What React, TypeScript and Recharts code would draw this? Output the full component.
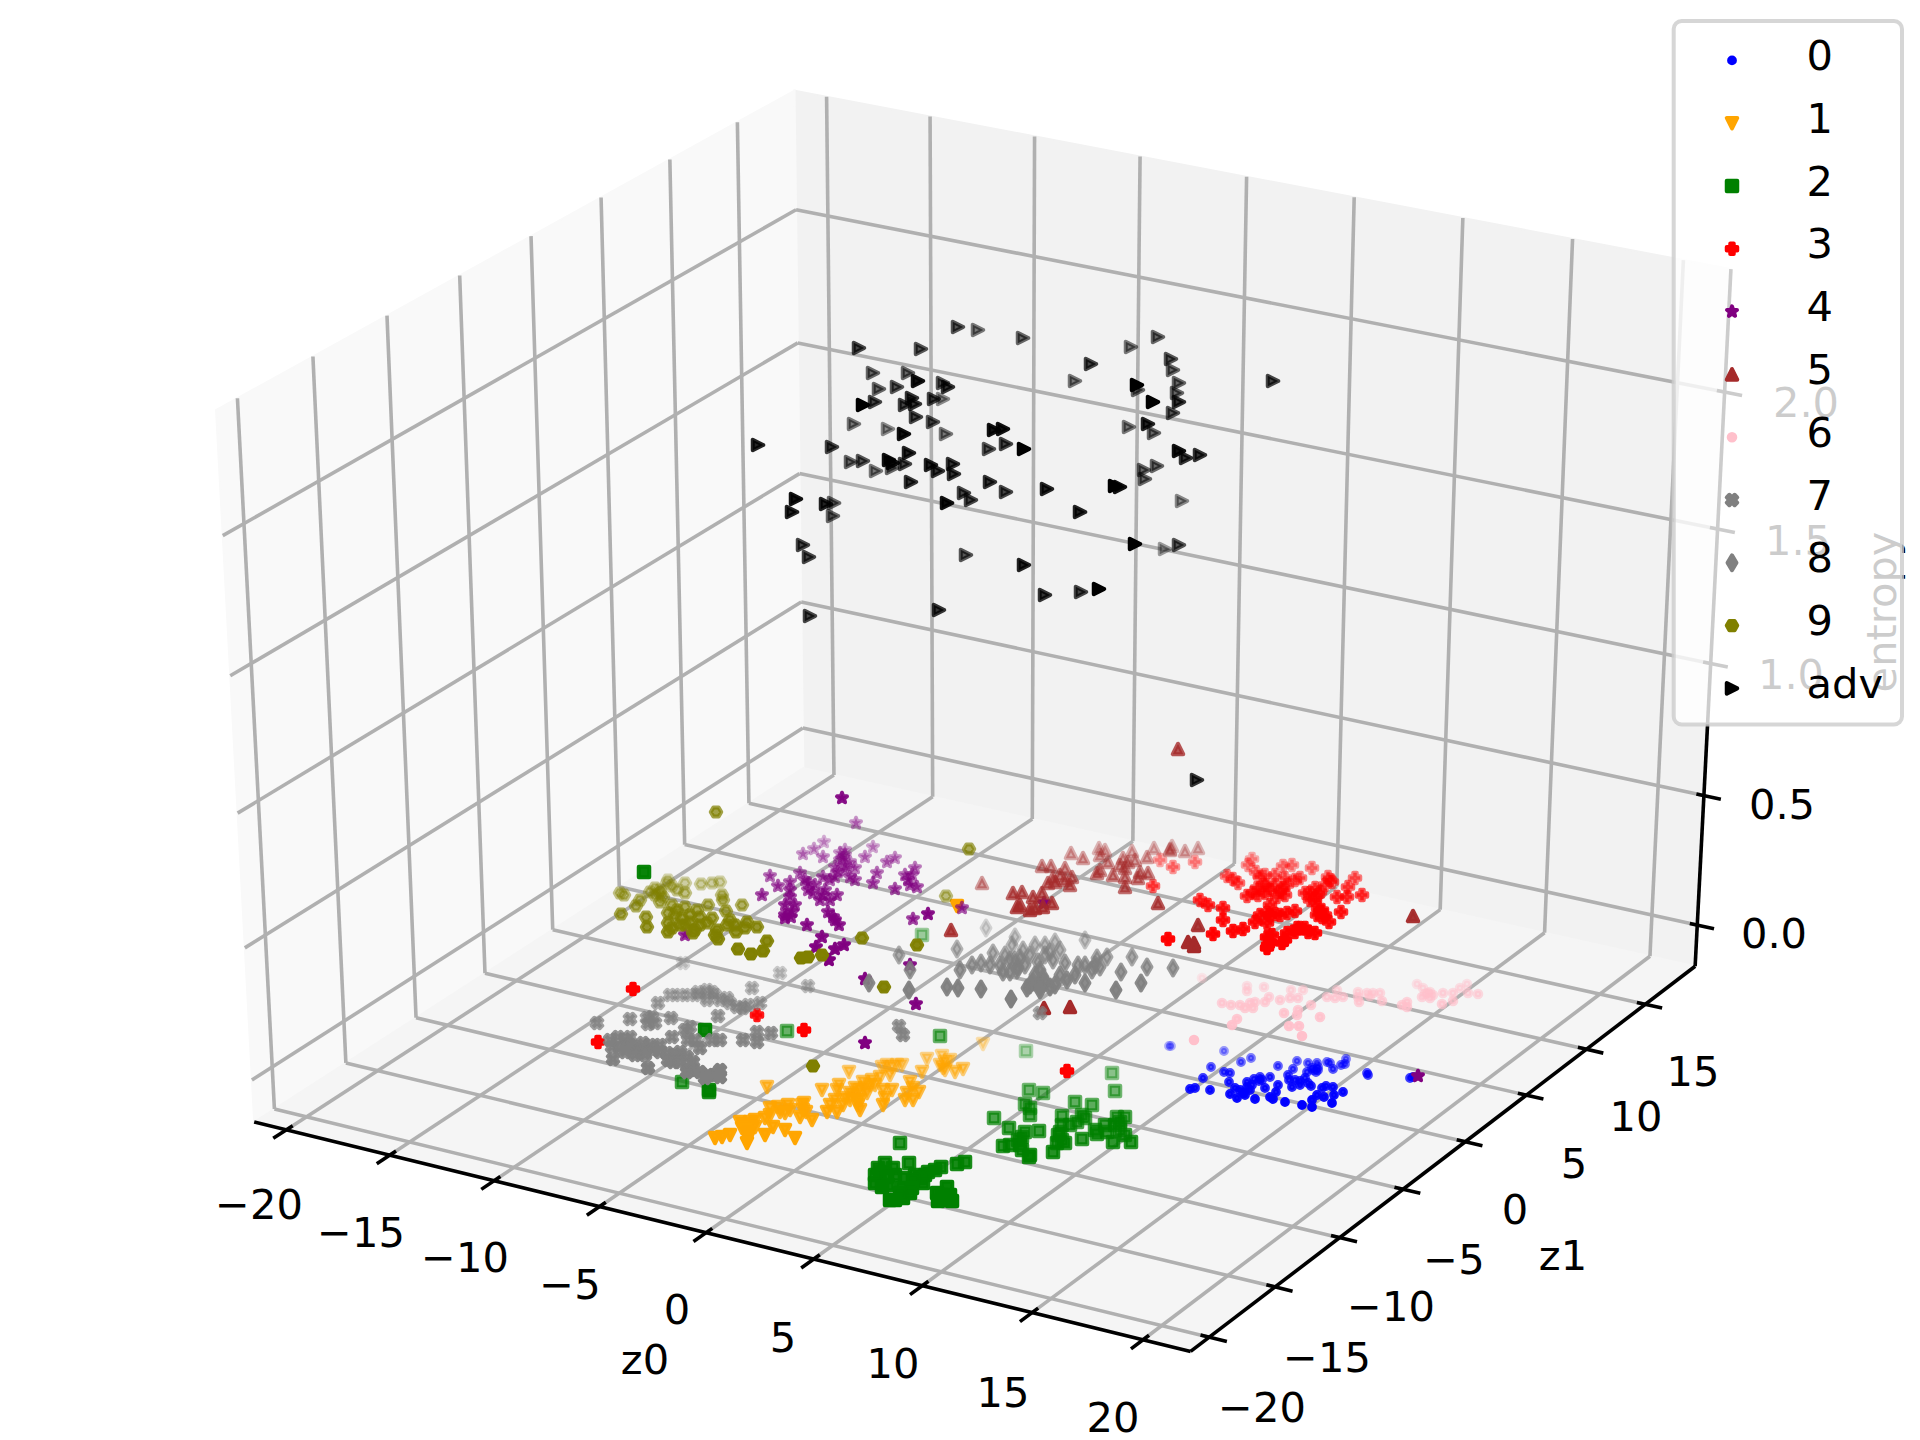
import React from 'react'
import {
  ScatterChart,
  Scatter,
  XAxis,
  YAxis,
  Legend,
  ReferenceArea,
  ReferenceLine,
  ReferenceDot,
} from 'recharts'

// depth is only given where the point does not sit on the floor (0 near, 1 far).
type Pt = number[]

const class0: Pt[] = [[1169,1046],[1171,1046],[1224,1051],[1251,1058],[1241,1062],[1211,1067],[1224,1072],[1230,1073],[1203,1078],[1229,1082],[1190,1089],[1195,1088],[1210,1090],[1230,1094],[1237,1098],[1235,1088],[1243,1093],[1247,1087],[1252,1085],[1247,1082],[1254,1079],[1260,1077],[1259,1081],[1255,1099],[1265,1088],[1270,1077],[1278,1066],[1270,1097],[1273,1099],[1276,1092],[1278,1085],[1285,1102],[1292,1087],[1288,1075],[1293,1069],[1289,1080],[1297,1061],[1300,1081],[1305,1078],[1308,1083],[1311,1086],[1302,1105],[1312,1100],[1312,1107],[1317,1095],[1324,1097],[1322,1088],[1326,1086],[1333,1087],[1334,1095],[1343,1092],[1332,1103],[1308,1063],[1317,1063],[1327,1062],[1330,1063],[1307,1072],[1316,1072],[1318,1070],[1333,1069],[1341,1065],[1345,1064],[1346,1059],[1367,1073],[1368,1075],[1410,1078],[1413,1077],[1240,1090],[1250,1090],[1245,1095],[1262,1080],[1295,1080],[1300,1085],[1313,1070],[1318,1067],[1312,1068]]
const class1: Pt[] = [[957,906,0],[983,1044],[927,1059],[942,1056],[950,1060],[943,1068],[955,1072],[963,1069],[922,1072],[887,1065],[897,1065],[902,1065],[882,1067],[849,1072],[767,1087],[822,1090],[839,1085],[837,1090],[863,1082],[872,1080],[880,1077],[855,1088],[850,1093],[857,1100],[860,1110],[867,1093],[883,1090],[892,1090],[883,1105],[910,1082],[913,1088],[907,1093],[919,1092],[913,1100],[835,1100],[827,1112],[837,1112],[843,1105],[804,1103],[803,1110],[800,1117],[812,1120],[788,1105],[778,1107],[770,1108],[785,1113],[765,1118],[773,1127],[785,1130],[795,1138],[765,1135],[745,1125],[748,1133],[747,1143],[740,1122],[755,1127],[730,1135],[722,1137],[715,1138],[855,1095],[860,1090],[865,1088],[860,1100],[870,1085],[875,1085],[858,1105],[850,1100],[745,1130],[748,1138],[742,1128],[750,1122],[755,1120],[802,1105],[806,1112],[770,1115],[780,1112],[790,1110],[892,1067],[945,1062],[940,1065],[945,1070],[885,1098],[905,1100],[890,1075],[830,1105],[845,1098]]
const class2: Pt[] = [[644,872,0.05],[922,935,0.9],[705,1030,0.05],[787,1031,0.6],[940,1036,0.6],[682,1082,0.4],[709,1090,0.1],[709,1092,0.2],[1026,1051],[1112,1073],[1029,1090],[1043,1093],[1115,1091],[1025,1104],[1030,1115],[1075,1102],[1092,1105],[994,1118],[1009,1128],[1039,1131],[1062,1116],[1077,1122],[1085,1118],[1060,1132],[1057,1143],[1022,1137],[1020,1145],[1003,1146],[1029,1157],[1053,1152],[1065,1143],[1082,1139],[1097,1134],[1107,1132],[1117,1117],[1125,1117],[1120,1130],[1113,1142],[1131,1142],[900,1143],[965,1162],[957,1164],[941,1167],[928,1172],[909,1163],[885,1163],[893,1168],[875,1175],[875,1183],[882,1187],[902,1188],[910,1193],[895,1200],[913,1180],[923,1183],[947,1187],[937,1193],[938,1201],[952,1201],[887,1177],[880,1172],[888,1185],[895,1175],[905,1178],[915,1175],[920,1178],[912,1188],[925,1175],[935,1170],[900,1193],[942,1195],[950,1195],[890,1200],[903,1198],[878,1168],[1062,1125],[1070,1125],[1082,1115],[1062,1140],[1105,1125],[1115,1125],[1120,1122],[1125,1135],[1095,1130],[1018,1140],[1025,1132],[1010,1145],[1022,1150],[1030,1155],[1030,1108],[1058,1135]]
const class3: Pt[] = [[633,989,0],[757,1015,0.15],[804,1030,0],[598,1042,0],[1067,1071,0],[1160,860],[1173,867],[1195,862],[1153,886],[1168,939],[1213,934],[1200,900],[1208,905],[1223,908],[1223,920],[1233,931],[1243,929],[1227,876],[1233,879],[1238,883],[1248,865],[1252,859],[1256,872],[1260,877],[1247,896],[1255,922],[1260,915],[1267,913],[1275,914],[1287,913],[1295,911],[1267,923],[1257,888],[1263,885],[1253,893],[1267,885],[1275,875],[1283,866],[1292,865],[1277,897],[1283,888],[1287,885],[1312,868],[1300,878],[1305,893],[1315,888],[1320,892],[1310,900],[1328,877],[1332,882],[1355,878],[1348,887],[1337,897],[1347,897],[1362,895],[1341,912],[1320,912],[1322,917],[1317,915],[1329,922],[1297,928],[1308,932],[1315,933],[1287,933],[1282,943],[1267,937],[1267,948],[1270,942],[1265,893],[1270,890],[1258,895],[1275,885],[1280,892],[1285,895],[1310,893],[1318,895],[1325,885],[1315,900],[1322,910],[1318,908],[1325,915],[1270,915],[1280,915],[1268,945],[1272,935],[1285,940],[1300,928],[1295,932],[1305,928],[1285,878],[1295,880],[1330,880],[1265,875],[1270,905]]
const class4: Pt[] = [[842,798,0.1],[856,823,0.85],[824,842],[873,847],[865,857],[803,854],[814,849],[823,857],[840,853],[843,858],[845,850],[835,867],[850,877],[770,876],[778,886],[762,895],[790,882],[800,873],[808,883],[790,897],[823,877],[835,877],[823,895],[837,895],[813,893],[830,900],[855,880],[877,873],[873,883],[887,862],[895,858],[915,868],[908,880],[917,887],[895,889],[785,915],[791,917],[807,925],[833,917],[839,925],[822,937],[816,947],[835,949],[844,945],[829,960],[928,914,0.1],[913,919,0.4],[910,965,0.1],[865,979,0.05],[916,1004,0.05],[865,1043,0],[685,935,0.3],[962,908,0.5],[1044,903,0],[1418,1076,0],[840,860],[845,865],[850,862],[838,872],[830,880],[845,870],[855,868],[790,890],[795,905],[785,905],[808,890],[815,885],[825,890],[820,900],[805,880],[912,875],[905,875],[910,885],[785,918],[792,912],[828,912],[835,920],[845,855]]
const class5: Pt[] = [[1178,749,0.3],[1042,866],[1051,866],[1071,853],[1083,858],[1099,848],[1105,850],[1108,862],[1123,858],[1132,851],[1147,857],[1154,848],[1170,849],[1172,846],[1185,851],[1198,848],[1065,868],[1053,878],[1048,883],[1072,877],[1070,885],[1097,873],[1113,875],[1125,877],[1138,878],[1148,873],[1125,887],[1158,903],[1013,893],[1022,892],[1017,907],[1030,910],[1033,897],[1042,893],[1052,903],[1043,907],[1198,925],[1188,942],[1194,946],[1194,943],[1413,916,0.05],[1044,1008,0],[1070,1007,0],[982,883,0.8],[951,930,0.2],[1125,868],[1128,862],[1120,865],[1135,860],[1100,855],[1170,850],[1060,875],[1065,880],[1055,882],[1020,905],[1035,908],[1100,870],[1140,872]]
const class6: Pt[] = [[1202,978],[1194,1040],[1222,1003],[1231,1005],[1240,1005],[1245,1008],[1253,1008],[1255,1002],[1265,1002],[1269,997],[1247,986],[1247,991],[1264,987],[1237,1019],[1232,1025],[1280,1000],[1291,990],[1290,998],[1298,998],[1303,990],[1284,1013],[1298,1010],[1297,1015],[1311,1005],[1320,1017],[1289,1026],[1299,1026],[1302,1036],[1327,997],[1337,990],[1335,998],[1343,997],[1358,997],[1359,1002],[1367,993],[1373,993],[1380,993],[1382,1001],[1402,1005],[1407,1002],[1407,1007],[1417,984],[1422,997],[1428,993],[1430,998],[1423,988],[1433,995],[1443,993],[1442,1004],[1453,1001],[1453,993],[1460,988],[1467,984],[1468,993],[1478,994],[1425,994],[1430,992],[1250,1003],[1358,992],[1370,996]]
const class7: Pt[] = [[683,963],[780,973],[808,986],[752,988],[658,1003],[670,995],[680,995],[690,995],[698,992],[707,990],[715,995],[707,1000],[727,998],[737,1007],[743,1008],[760,1003],[597,1023],[630,1019],[647,1018],[655,1023],[671,1018],[718,1016],[690,1027],[688,1040],[672,1037],[720,1040],[743,1040],[757,1032],[757,1042],[771,1033],[618,1037],[612,1047],[613,1059],[630,1037],[635,1047],[643,1043],[653,1050],[667,1053],[673,1062],[687,1057],[693,1062],[648,1068],[687,1072],[708,1075],[720,1070],[720,1077],[700,1048],[899,1026],[903,1035],[1040,1013],[625,1040],[630,1045],[640,1050],[645,1055],[625,1052],[635,1055],[650,1045],[660,1052],[675,1055],[680,1062],[690,1070],[700,1072],[705,1078],[715,1075],[695,1040],[685,1030],[720,1000],[700,995],[712,992],[730,1003],[748,1005],[652,1017],[648,1024],[620,1048],[610,1040],[660,1045],[668,1060],[680,1052],[712,1040]]
const class8: Pt[] = [[986,928],[957,949],[899,955],[910,970],[869,983],[909,990],[1011,999],[981,989],[947,987],[958,988],[960,970],[972,965],[981,963],[1003,972],[993,953],[1015,937],[1010,960],[1017,970],[1035,945],[1055,942],[1050,952],[1023,950],[1085,940],[1018,967],[1038,962],[1053,960],[1065,963],[1078,965],[1097,958],[1107,957],[1100,967],[1027,988],[1033,982],[1043,977],[1050,987],[1067,980],[1085,983],[1092,970],[1132,957],[1121,972],[1147,967],[1141,983],[1116,990],[1173,968],[1040,987],[1015,960],[1005,955],[1025,965],[1035,975],[1040,970],[1030,985],[1040,990],[1045,982],[1055,985],[1060,975],[1075,975],[1085,965],[1000,965],[1012,945],[1020,958],[1045,955],[1060,950],[1095,965],[1045,945],[1030,955],[1010,972],[990,965]]
const class9: Pt[] = [[716,812,0.4],[969,849,0.5],[946,896],[917,945],[862,938],[884,987,0.05],[813,1066,0],[620,893],[624,895],[621,914],[636,906],[646,917],[647,927],[655,888],[667,883],[668,880],[660,902],[677,890],[685,883],[685,893],[701,884],[712,883],[720,882],[722,895],[723,900],[726,911],[742,905],[668,913],[668,923],[668,932],[677,910],[685,907],[697,910],[708,905],[693,933],[707,923],[717,930],[718,939],[727,925],[736,932],[747,922],[757,927],[767,941],[738,949],[751,954],[763,951],[801,958],[808,957],[822,955],[660,890],[650,892],[663,897],[672,886],[660,893],[675,915],[682,918],[690,915],[680,925],[690,922],[700,917],[672,905],[712,918],[700,925],[735,925],[745,928],[730,920],[715,935],[655,895],[640,900],[672,928],[685,925],[695,930]]
const adv: Pt[] = [[758,445,0.2],[859,348,0.4],[921,349,0.5],[958,327,0.5],[978,330,0.7],[1023,338,0.6],[873,373,0.6],[908,373,0.6],[918,381,0.1],[943,383,0.5],[948,387,0.3],[879,389,0.6],[897,387,0.5],[863,405,0],[875,402,0.4],[912,398,0.3],[905,405,0.4],[915,404,0.3],[934,399,0.4],[943,399,0.8],[916,417,0.4],[933,422,0.5],[854,424,0.7],[888,429,0.8],[904,434,0.1],[946,434,0.7],[994,430,0.1],[1003,429,0.1],[989,449,0.5],[1006,444,0.4],[1024,449,0],[1075,381,0.7],[832,447,0.4],[851,462,0.6],[863,461,0.5],[876,471,0.7],[889,460,0.1],[893,463,0.1],[892,468,0.6],[909,453,0.2],[905,464,0.4],[931,465,0.2],[938,471,0.3],[953,464,0.3],[954,474,0.3],[911,482,0.3],[990,482,0.3],[1006,492,0.4],[1047,489,0.2],[964,493,0.4],[971,500,0.4],[947,503,0.1],[1080,512,0.2],[796,499,0.1],[792,512,0.2],[826,504,0.2],[834,503,0.6],[833,516,0.6],[803,545,0.4],[809,557,0.4],[966,555,0.5],[1024,565,0.2],[1045,595,0.3],[1081,592,0.4],[939,610,0.3],[810,616,0.4],[1091,364,0.4],[1131,347,0.7],[1158,337,0.6],[1171,359,0.5],[1173,370,0.6],[1137,385,0],[1138,390,0.6],[1179,383,0.6],[1177,393,0.6],[1153,402,0],[1179,402,0.3],[1173,413,0.5],[1129,427,0.7],[1148,424,0.2],[1154,433,0.6],[1179,451,0.1],[1186,458,0.3],[1200,455,0.3],[1273,381,0.4],[1157,466,0.6],[1144,470,0.6],[1145,479,0.6],[1115,486,0],[1120,487,0.1],[1182,501,0.8],[1135,544,0],[1165,549,0.9],[1179,545,0.5],[1099,589,0],[1197,780,0.3]]

const z0Ticks = [-20, -15, -10, -5, 0, 5, 10, 15, 20]
const z1Ticks = [-20, -15, -10, -5, 0, 5, 10, 15]
const entropyTicks = [0, 0.5, 1, 1.5, 2]

const z0Labels = [[259,1204],[361,1232],[465,1257],[570,1284],[677,1309],[783,1337],[893,1363],[1003,1392],[1113,1417]]
const z1Labels = [[1262,1407],[1327,1357],[1391,1306],[1454,1259],[1515,1209],[1574,1163],[1636,1116],[1693,1071]]
const entropyLabels = [[1774,933],[1782,804],[1791,674],[1798,540],[1806,402]]

const FONT = '"DejaVu Sans", sans-serif'
const FONT_SIZE = 41.6
const LINE = 3.6

// mplot3d's default camera (elev 30, azim -60, dist 10) fitted to the picture
const project = (a: number, b: number, c: number) => {
  const dx = a - 0.5
  const dy = b - 0.5
  const dz = c - 0.5
  const w = 10 - (0.433 * dx - 0.75 * dy + 0.5 * dz)
  const xp = (0.866 * dx + 0.5 * dy) / w
  const yp = (-0.25 * dx + 0.433 * dy + 0.866 * dz) / w
  return { x: 985.8 + 10810 * xp, y: 699.5 - 8130 * yp }
}
const aOf = (v: number) => (v + 21.56) / 43.69
const bOf = (v: number) => (v + 21.4) / 40.7
const cOf = (v: number) => (v + 0.161) / 2.601

const gridSegments: number[][][] = [
  ...z0Ticks.flatMap((t) => [
    [[aOf(t), 0, 0], [aOf(t), 1, 0]],
    [[aOf(t), 1, 0], [aOf(t), 1, 1]],
  ]),
  ...z1Ticks.flatMap((t) => [
    [[0, bOf(t), 0], [1, bOf(t), 0]],
    [[0, bOf(t), 0], [0, bOf(t), 1]],
  ]),
  ...entropyTicks.flatMap((t) => [
    [[0, 0, cOf(t)], [0, 1, cOf(t)]],
    [[0, 1, cOf(t)], [1, 1, cOf(t)]],
  ]),
]

const axisSegments: number[][][] = [
  [[0, 0, 0], [1, 0, 0]],
  [[1, 0, 0], [1, 1, 0]],
  [[1, 1, 0], [1, 1, 1]],
  ...z0Ticks.map((t) => [[aOf(t), -0.022, 0], [aOf(t), 0.011, 0]]),
  ...z1Ticks.map((t) => [[0.991, bOf(t), 0], [1.018, bOf(t), 0]]),
  ...entropyTicks.map((t) => [[0.992, 1, cOf(t)], [1.018, 1, cOf(t)]]),
]

const panes = [
  { fill: '#f2f2f2', corners: [[0, 1, 0], [1, 1, 0], [1, 1, 1], [0, 1, 1]] },
  { fill: '#f9f9f9', corners: [[0, 0, 0], [0, 1, 0], [0, 1, 1], [0, 0, 1]] },
  { fill: '#f5f5f5', corners: [[0, 0, 0], [1, 0, 0], [1, 1, 0], [0, 1, 0]] },
]

const S = 10.5
const R = S / 2
const k = S / 9.3
const polygons: Record<string, number[][]> = {
  down: [[0, R], [-R, -R], [R, -R]],
  up: [[0, -R], [-R, R], [R, R]],
  right: [[R, 0], [-R, -R], [-R, R]],
  square: [[-R, -R], [R, -R], [R, R], [-R, R]],
  plus: [[-1,-3],[1,-3],[1,-1],[3,-1],[3,1],[1,1],[1,3],[-1,3],[-1,1],[-3,1],[-3,-1],[-1,-1]].map(([x, y]) => [x * S / 6, y * S / 6]),
  cross: [[-1,-2],[0,-1],[1,-2],[2,-1],[1,0],[2,1],[1,2],[0,1],[-1,2],[-2,1],[-1,0],[-2,-1]].map(([x, y]) => [x * S / 4, y * S / 4]),
  star: [[0,-4.65],[1.04,-1.44],[4.42,-1.44],[1.69,0.55],[2.73,3.76],[0,1.78],[-2.73,3.76],[-1.69,0.55],[-4.42,-1.44],[-1.04,-1.44]].map(([x, y]) => [x * k, y * k]),
  thin: [[0, -6.6], [3.95, 0], [0, 6.6], [-3.95, 0]].map(([x, y]) => [x * k, y * k]),
  hex: [[-R, 0], [-R / 2, -R * 0.866], [R / 2, -R * 0.866], [R, 0], [R / 2, R * 0.866], [-R / 2, R * 0.866]],
}

const series = [
  { name: '0', color: '#0000ff', kind: 'dot', radius: 2.9, points: class0 },
  { name: '1', color: '#ffa500', kind: 'down', points: class1 },
  { name: '2', color: '#008000', kind: 'square', points: class2 },
  { name: '3', color: '#ff0000', kind: 'plus', points: class3 },
  { name: '4', color: '#800080', kind: 'star', points: class4 },
  { name: '5', color: '#a52a2a', kind: 'up', points: class5 },
  { name: '6', color: '#ffc0cb', kind: 'dot', radius: 3.3, points: class6 },
  { name: '7', color: '#808080', kind: 'cross', points: class7 },
  { name: '8', color: '#808080', kind: 'thin', points: class8 },
  { name: '9', color: '#808000', kind: 'hex', points: class9 },
  { name: 'adv', color: '#000000', kind: 'right', points: adv },
]

// depth shading: floor points fade with how far back they sit, 0.3 at the far end of a series
const shaded = (points: Pt[]) => {
  const floorY = points.filter((p) => p.length === 2).map((p) => p[1])
  const top = floorY.length ? Math.min(...floorY) : 0
  const bottom = floorY.length ? Math.max(...floorY) : 1
  return points
    .map((p) => {
      const depth = p.length > 2 ? p[2] : Math.pow(1 - (p[1] - top) / (bottom - top), 1.4)
      return { x: p[0], y: p[1], alpha: 1 - 0.7 * depth }
    })
    .sort((l, r) => l.alpha - r.alpha)
}

const Marker = ({ kind, radius, color, alpha, cx, cy }: any) =>
  kind === 'dot' ? (
    <circle cx={cx} cy={cy} r={radius} fill={color} stroke={color} strokeWidth={4} fillOpacity={alpha} strokeOpacity={alpha} />
  ) : (
    <polygon
      points={polygons[kind].map(([x, y]) => `${cx + x},${cy + y}`).join(' ')}
      fill={color}
      stroke={color}
      strokeWidth={4}
      strokeLinejoin="round"
      fillOpacity={alpha}
      strokeOpacity={alpha}
    />
  )

const tickText = (text: string, rotate = false) => (props: any) =>
  rotate ? (
    <text
      transform={`translate(${props.cx},${props.cy}) rotate(-90)`}
      textAnchor="middle"
      fontFamily={FONT}
      fontSize={FONT_SIZE}
      fill="#000"
    >
      {text}
    </text>
  ) : (
    <text x={props.cx} y={props.cy + 15} textAnchor="middle" fontFamily={FONT} fontSize={FONT_SIZE} fill="#000">
      {text}
    </text>
  )

const tickName = (v: number) => String(v).replace('-', '\u2212')

const PlotLegend = () => (
  <svg width={236} height={710} style={{ display: 'block' }}>
    <rect x={3.7} y={3} width={228.3} height={703.5} rx={8} fill="#fff" fillOpacity={0.8} stroke="#ccc" strokeOpacity={0.8} strokeWidth={4} />
    {series.map((s, i) => (
      <g key={s.name}>
        <Marker kind={s.kind} radius={s.radius} color={s.color} alpha={1} cx={62} cy={42.4 + 62.8 * i} />
        <text x={136.5} y={52 + 62.8 * i} fontFamily={FONT} fontSize={FONT_SIZE} fill="#000">
          {s.name}
        </text>
      </g>
    ))}
  </svg>
)

export default function App() {
  const toLine = (seg: number[][], key: string, color: string) => {
    const [p, q] = seg.map(([a, b, c]) => project(a, b, c))
    return <ReferenceLine key={key} segment={[p, q]} stroke={color} strokeWidth={LINE} ifOverflow="visible" />
  }
  return (
    <div style={{ position: 'absolute', left: 0, top: 0, width: 1920, height: 1440, background: '#fff', overflow: 'hidden' }}>
      <ScatterChart width={1920} height={1440} margin={{ top: 0, right: 0, bottom: 0, left: 0 }}>
        <XAxis type="number" dataKey="x" domain={[0, 1920]} hide />
        <YAxis type="number" dataKey="y" domain={[0, 1440]} reversed hide />
        {panes.map((pane) => (
          <ReferenceArea
            key={pane.fill}
            x1={0}
            x2={1920}
            y1={0}
            y2={1440}
            ifOverflow="visible"
            shape={(r: any) => (
              <polygon
                points={pane.corners
                  .map(([a, b, c]) => project(a, b, c))
                  .map((p) => `${r.x + (p.x / 1920) * r.width},${r.y + (p.y / 1440) * r.height}`)
                  .join(' ')}
                fill={pane.fill}
                stroke={pane.fill}
                strokeWidth={2}
              />
            )}
          />
        ))}
        {gridSegments.map((seg, i) => toLine(seg, `grid-${i}`, '#b0b0b0'))}
        {axisSegments.map((seg, i) => toLine(seg, `axis-${i}`, '#000'))}
        {z0Ticks.map((t, i) => (
          <ReferenceDot key={`z0-${t}`} x={z0Labels[i][0]} y={z0Labels[i][1]} shape={tickText(tickName(t))} />
        ))}
        {z1Ticks.map((t, i) => (
          <ReferenceDot key={`z1-${t}`} x={z1Labels[i][0]} y={z1Labels[i][1]} shape={tickText(tickName(t))} />
        ))}
        {entropyTicks.map((t, i) => (
          <ReferenceDot key={`e-${t}`} x={entropyLabels[i][0]} y={entropyLabels[i][1]} shape={tickText(t.toFixed(1))} />
        ))}
        <ReferenceDot x={645} y={1359} shape={tickText('z0')} />
        <ReferenceDot x={1563} y={1255} shape={tickText('z1')} />
        <ReferenceDot x={1896} y={612} shape={tickText('entropy', true)} />
        {series.map((s) => (
          <Scatter
            key={s.name}
            name={s.name}
            data={shaded(s.points)}
            fill={s.color}
            isAnimationActive={false}
            shape={(p: any) => (
              <Marker kind={s.kind} radius={s.radius} color={s.color} alpha={p.payload.alpha} cx={p.cx} cy={p.cy} />
            )}
          />
        ))}
        <Legend
          layout="horizontal"
          verticalAlign="middle"
          align="center"
          itemSorter={null}
          content={() => <PlotLegend />}
          wrapperStyle={{ position: 'absolute', left: 1670, top: 18, width: 236, height: 710, margin: 0 }}
        />
      </ScatterChart>
    </div>
  )
}
